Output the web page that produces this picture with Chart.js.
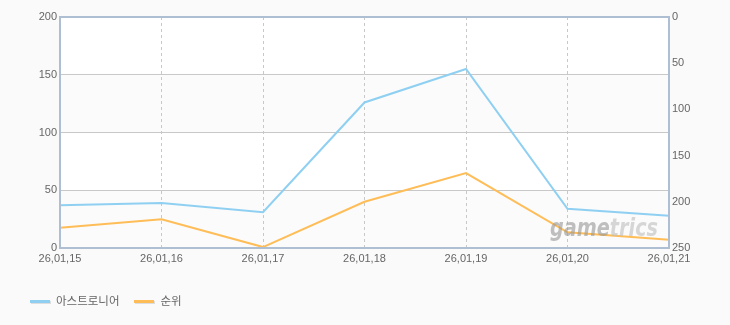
<!DOCTYPE html>
<html>
<head>
<meta charset="utf-8">
<script src="https://cdn.jsdelivr.net/npm/chart.js@4"></script>
<style>
  body { margin: 0; background: #fafafa; }
  #wrap { position: relative; width: 730px; height: 325px; }
  #legend { position: absolute; left: 30px; top: 292px; font: 11.5px "Liberation Sans", "Noto Sans CJK KR", sans-serif; color: #666; }
  #legend span.item { display: inline-block; margin-right: 15px; }
  #legend i { display: inline-block; width: 20px; height: 3px; vertical-align: middle; margin-right: 6px; box-shadow: 1px 1px 0 #ddd; }
</style>
</head>
<body>
<div id="wrap">
  <canvas id="chart" width="730" height="325"></canvas>
  <div id="legend"></div>
</div>
<script>
// 데이터
const labels = ['26,01,15', '26,01,16', '26,01,17', '26,01,18', '26,01,19', '26,01,20', '26,01,21'];
const astroneer = [37, 39, 31, 126, 155, 34, 28];
const rank = [228, 219, 249, 200, 169, 233, 241];
const leftTicks = [0, 50, 100, 150, 200];
const rightTicks = [0, 50, 100, 150, 200, 250];

const FONT = '"Liberation Sans", "Noto Sans CJK KR", sans-serif';
const BLUE = '#8fd0f2';
const ORANGE = '#ffbd58';

// 배경 띠 + 테두리 + 워터마크
const decor = {
  id: 'decor',
  beforeDraw(chart) {
    const { ctx, chartArea: a, scales } = chart;
    const y = scales.y;
    ctx.save();
    ctx.fillStyle = '#fafafa';
    ctx.fillRect(0, 0, chart.width, chart.height);
    for (let i = 0; i < leftTicks.length - 1; i++) {
      const top = y.getPixelForValue(leftTicks[i + 1]);
      const bot = y.getPixelForValue(leftTicks[i]);
      ctx.fillStyle = i % 2 === 0 ? '#fbfbfb' : '#ffffff';
      ctx.fillRect(a.left, top, a.right - a.left, bot - top);
    }
    ctx.restore();
  },
  afterDatasetsDraw(chart) {
    const { ctx } = chart;
    ctx.save();
    ctx.font = 'italic bold 24px "DejaVu Sans", sans-serif';
    ctx.textBaseline = 'alphabetic';
    const wGame = ctx.measureText('game').width;
    const wAll = ctx.measureText('gametrics').width;
    ctx.translate(550, 236);
    ctx.scale(108 / wAll, 1);
    ctx.fillStyle = 'rgba(150,150,150,0.6)';
    ctx.fillText('game', 0, 0);
    ctx.fillStyle = 'rgba(190,190,190,0.6)';
    ctx.fillText('trics', wGame, 0);
    ctx.restore();
  },
  afterDraw(chart) {
    const { ctx, chartArea: a } = chart;
    ctx.save();
    ctx.strokeStyle = '#aebfd3';
    ctx.lineWidth = 2;
    ctx.strokeRect(a.left, a.top, a.right - a.left, a.bottom - a.top);
    ctx.restore();
  }
};

new Chart(document.getElementById('chart'), {
  type: 'line',
  data: {
    labels: labels,
    datasets: [
      {
        label: '아스트로니어',
        data: astroneer,
        yAxisID: 'y',
        borderColor: BLUE,
        borderWidth: 2,
        pointRadius: 0,
        tension: 0
      },
      {
        label: '순위',
        data: rank,
        yAxisID: 'y1',
        borderColor: ORANGE,
        borderWidth: 2,
        pointRadius: 0,
        tension: 0
      }
    ]
  },
  options: {
    responsive: false,
    animation: false,
    layout: { padding: { top: 17, left: 0, right: 0, bottom: 0 } },
    plugins: {
      legend: { display: false },
      tooltip: { enabled: false }
    },
    scales: {
      x: {
        offset: false,
        afterFit(s) { s.height = 77; },
        grid: {
          color: '#c8c8c8',
          drawTicks: false,
          tickLength: 0
        },
        border: { display: false, dash: [3, 3] },
        ticks: {
          color: '#666',
          font: { family: FONT, size: 11 },
          padding: 4,
          maxRotation: 0,
          autoSkip: false
        }
      },
      y: {
        position: 'left',
        min: 0,
        max: 200,
        afterFit(s) { s.width = 60; },
        afterBuildTicks(s) { s.ticks = leftTicks.map(v => ({ value: v })); },
        grid: { color: '#c8c8c8', drawTicks: false },
        border: { display: false },
        ticks: {
          color: '#666',
          font: { family: FONT, size: 11 },
          padding: 3
        }
      },
      y1: {
        position: 'right',
        reverse: true,
        min: 0,
        max: 250,
        afterFit(s) { s.width = 61; },
        afterBuildTicks(s) { s.ticks = rightTicks.map(v => ({ value: v })); },
        grid: { drawOnChartArea: false, drawTicks: false },
        border: { display: false },
        ticks: {
          color: '#666',
          font: { family: FONT, size: 11 },
          padding: 3
        }
      }
    }
  },
  plugins: [decor]
});

// 범례
const legendEl = document.getElementById('legend');
[['아스트로니어', BLUE], ['순위', ORANGE]].forEach(([name, color]) => {
  const s = document.createElement('span');
  s.className = 'item';
  s.innerHTML = '<i style="background:' + color + '"></i>' + name;
  legendEl.appendChild(s);
});
</script>
</body>
</html>
